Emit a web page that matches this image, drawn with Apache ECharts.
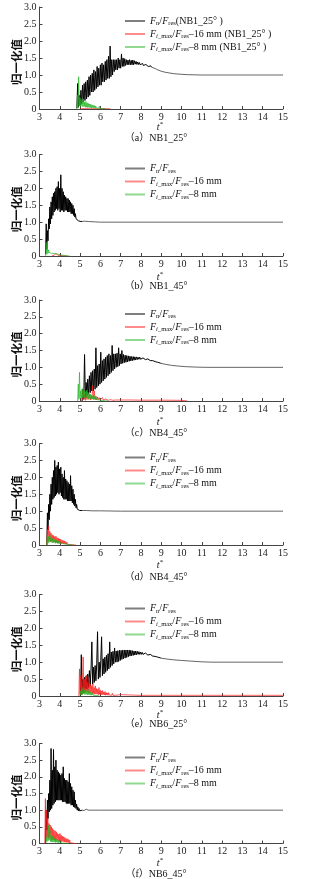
<!DOCTYPE html>
<html>
<head>
<meta charset="utf-8">
<script src="https://cdn.jsdelivr.net/npm/echarts@6/dist/echarts.min.js"></script>
<style>
html,body{margin:0;padding:0;background:#fff;}
#chart{width:327px;height:879px;}
</style>
</head>
<body>
<div id="chart"></div>
<script>
// ---- axis ticks and panel captions ----
const xMin = 3, xMax = 15, xStep = 1;
const yMin = 0, yMax = 3, yStep = 0.5;
const captions = ['（a）NB1_25°', '（b）NB1_45°', '（c）NB4_45°', '（d）NB4_45°', '（e）NB6_25°', '（f）NB6_45°'];
const yName = '归一化值';

// ---- (a) NB1_25° ----
const fnA_t0 = 4.84, fnA_dt = 0.04;
const fnA = [0.02,0.75,0.05,0.4,0.1,0.55,0.15,0.7,0.2,0.75,0.25,0.8,0.3,0.85,0.35,0.95,0.4,1.0,0.5,1.05,
  0.5,1.15,0.55,1.1,0.6,1.25,0.65,1.2,0.7,1.3,0.7,1.35,0.8,1.3,0.8,1.4,0.85,1.45,0.9,1.55,
  0.9,1.85,0.95,1.45,1.0,1.45,1.1,1.45,1.15,1.45,1.15,1.5,1.2,1.45,1.2,1.62,1.25,1.5,1.25,1.48,
  1.28,1.45,1.3,1.44,1.3,1.45,1.3,1.43,1.3,1.44,1.3,1.42,1.32,1.4,1.31,1.38,1.31,1.37,1.3,1.35,
  1.29,1.34,1.28,1.32,1.27,1.31,1.26,1.3,1.25,1.29,1.24,1.27,1.23];
const fnA_tail = [[8.6,1.22],[8.7,1.19],[8.8,1.16],[9.0,1.11],[9.2,1.08],[9.4,1.06],[9.6,1.04],[9.8,1.03],[10.0,1.02],[10.3,1.01],[11,1.0],[15,1.0]];
const f16A_t0 = 5.0, f16A_dt = 0.05;
const f16A = [0,0.03,0.01,0.04,0.01,0.03,0.02,0.05,0.01,0.03,0.01,0.04,0.01,0.03,0.01,0.02,0.01,0.02,0.01,0.02,0.01,0.03,0.01,0.02,0.01,0.03,0.01,0.02,0.01,0.02,0];
const f8A_t0 = 4.84, f8A_dt = 0.03;
const f8A = [0,0.4,0.05,0.95,0.1,0.35,0.08,0.3,0.1,0.25,0.06,0.3,0.08,0.2,0.05,0.22,0.06,0.18,0.04,0.16,
  0.05,0.15,0.04,0.14,0.03,0.12,0.04,0.11,0.03,0.1,0.02,0.09,0.03,0.08,0.02,0.07,0.02,0.08,0.02,0.06,
  0.01,0.05,0.01,0.04,0.01,0.03,0.01,0.02,0];

// ---- (b) NB1_45° ----
const fnB_t0 = 3.30, fnB_dt = 0.03;
const fnB = [0.05,0.95,0.2,0.75,0.45,1.1,0.8,1.45,0.95,1.6,1.1,1.75,1.2,1.85,1.3,1.9,1.35,2.0,1.4,2.05,
  1.35,2.2,1.4,2.0,1.3,2.4,1.35,2.0,1.35,1.9,1.3,1.8,1.35,1.75,1.35,1.7,1.3,1.7,1.3,1.65,
  1.3,1.6,1.25,1.55,1.25,1.5,1.2,1.4,1.15,1.25,1.1,1.15,1.06,1.1,1.04,1.07,1.03,1.05,1.02,1.04,1.02];
const fnB_tail = [[5.2,1.03],[5.4,1.02],[5.7,1.01],[6.0,1.0],[15,1.0]];
const f16B_t0 = 3.6, f16B_dt = 0.03;
const f16B = [0,0.03,0.01,0.05,0.02,0.06,0.02,0.08,0.03,0.07,0.02,0.06,0.03,0.05,0.02,0.05,0.01,0.04,0.01,0.03,0.01,0.02,0,0.01,0,0.01,0];
const f8B_t0 = 3.30, f8B_dt = 0.03;
const f8B = [0,0.4,0.05,0.25,0.08,0.18,0.1,0.15,0.06,0.14,0.08,0.12,0.05,0.12,0.07,0.1,0.04,0.11,0.06,0.09,
  0.04,0.08,0.05,0.07,0.03,0.06,0.03,0.05,0.02,0.04,0.02,0.03,0.01,0.03,0.01,0.02,0.01,0.01,0,0.01,0];

// ---- (c) NB4_45° ----
const fnC_t0 = 5.10, fnC_dt = 0.04;
const fnC = [0.0,0.35,0.05,1.38,0.1,0.55,0.15,0.65,0.2,0.75,0.25,0.85,0.3,0.9,0.3,0.95,0.35,1.58,0.4,1.05,
  0.45,1.1,0.5,1.45,0.55,1.2,0.6,1.25,0.65,1.3,0.7,1.35,0.75,1.4,0.8,1.35,0.85,1.65,0.9,1.4,
  0.95,1.4,1.0,1.42,1.02,1.58,1.05,1.4,1.1,1.5,1.12,1.38,1.14,1.36,1.15,1.35,1.16,1.34,1.18,1.33,
  1.19,1.32,1.2,1.32,1.21,1.31,1.22,1.31,1.23,1.3,1.24,1.3,1.24,1.29,1.24,1.28,1.23,1.27,1.23,1.26,
  1.22,1.25,1.21,1.23,1.2,1.22,1.19,1.2,1.18,1.19,1.17,1.17,1.16,1.15,1.14,1.14,1.13,1.12];
const fnC_tail = [[9.2,1.09],[9.5,1.06],[9.8,1.04],[10.2,1.02],[10.8,1.005],[11.2,1.0],[15,1.0]];
const f16C_t0 = 5.10, f16C_dt = 0.04;
const f16C = [0,0.3,0.05,0.2,0.02,0.15,0.04,0.25,0.05,0.2,0.03,0.15,0.05,0.45,0.06,0.3,0.04,0.15,0.03,0.12,
  0.04,0.1,0.03,0.08,0.02,0.1,0.03,0.07,0.02,0.06,0.02,0.05,0.02,0.05,0.03,0.04,0.02,0.05,0.02,0.04,
  0.02,0.03,0.02,0.03];
const f16C_tail = [[7.0,0.03],[7.5,0.03],[8.0,0.025],[9.0,0.025],[10.0,0.02],[10.3,0.0]];
const f8C_t0 = 4.88, f8C_dt = 0.03;
const f8C = [0,0.5,0.05,0.85,0.1,0.3,0.08,0.35,0.1,0.4,0.12,0.3,0.08,0.28,0.1,0.32,0.08,0.25,0.06,0.22,
  0.08,0.2,0.05,0.18,0.06,0.15,0.04,0.16,0.05,0.12,0.03,0.1,0.04,0.09,0.02,0.08,0.03,0.07,0.02,0.06,
  0.01,0.05,0.02,0.04,0.01,0.03,0.01,0.02,0,0.01,0];

// ---- (d) NB4_45° ----
const fnD_t0 = 3.36, fnD_dt = 0.03;
const fnD = [0.0,0.95,0.45,1.2,0.75,1.5,1.0,1.8,1.2,2.0,1.35,2.2,1.4,2.5,1.45,2.3,1.5,2.35,1.55,2.45,
  1.5,2.25,1.55,2.3,1.45,2.1,1.4,2.0,1.35,2.2,1.35,1.95,1.35,1.9,1.3,1.85,1.3,1.8,1.3,2.05,
  1.3,1.75,1.25,1.65,1.2,1.5,1.15,1.35,1.1,1.2,1.06,1.1,1.03,1.06,1.02,1.04,1.02,1.03,1.02];
const fnD_tail = [[5.3,1.02],[5.6,1.01],[6.0,1.01],[7,1.0],[15,1.0]];
const f16D_t0 = 3.36, f16D_dt = 0.03;
const f16D = [0,0.45,0.1,0.55,0.15,0.4,0.1,0.35,0.12,0.3,0.08,0.28,0.1,0.25,0.06,0.26,0.08,0.22,0.05,0.2,
  0.06,0.18,0.05,0.17,0.04,0.15,0.05,0.13,0.03,0.12,0.03,0.1,0.02,0.08,0.02,0.07,0.02,0.05,0.01,0.04,
  0.01,0.03,0.01,0.02,0,0.01,0,0.01,0,0];
const f8D_t0 = 3.36, f8D_dt = 0.03;
const f8D = [0,0.3,0.05,0.25,0.08,0.3,0.1,0.22,0.08,0.2,0.06,0.18,0.08,0.16,0.05,0.15,0.06,0.14,0.05,0.12,
  0.04,0.12,0.05,0.1,0.03,0.1,0.04,0.09,0.03,0.08,0.03,0.07,0.02,0.06,0.02,0.05,0.01,0.04,0.01,0.03,
  0.01,0.02,0,0.01,0];

// ---- (e) NB6_25° ----
const fnE_t0 = 5.02, fnE_dt = 0.04;
const fnE = [0.0,1.22,0.05,0.5,0.1,0.55,0.15,0.6,0.2,0.65,0.25,0.75,0.3,0.8,1.6,0.35,0.85,0.4,0.9,0.45,
  0.95,1.9,0.5,1.0,0.55,1.05,1.75,0.6,1.1,0.65,1.15,0.7,1.2,0.75,1.25,0.8,1.6,0.85,1.3,0.9,
  1.32,0.95,1.42,1.0,1.33,1.0,1.34,1.02,1.35,1.05,1.35,1.08,1.36,1.1,1.36,1.12,1.36,1.14,1.36,1.16,
  1.36,1.18,1.35,1.19,1.34,1.2,1.33,1.21,1.33,1.22,1.32,1.23,1.31,1.23,1.3,1.23,1.29,1.23,1.28,1.22,
  1.27,1.22,1.26,1.21,1.24,1.2,1.23,1.19,1.21,1.18,1.19,1.17,1.17,1.16,1.15,1.15,1.14,1.13,1.13,1.12];
const fnE_tail = [[9.3,1.09],[9.6,1.07],[10,1.05],[10.5,1.03],[11,1.01],[11.5,1.0],[15,1.0]];
const f16E_t0 = 4.94, f16E_dt = 0.03;
const f16E = [0,0.8,0.05,0.6,0.1,0.3,0.05,1.15,0.1,0.5,0.08,0.45,0.1,0.6,0.12,0.4,0.1,0.55,0.08,0.35,
  0.1,0.3,0.06,0.35,0.08,0.25,0.05,0.3,0.06,0.22,0.05,0.2,0.04,0.25,0.05,0.18,0.04,0.15,0.03,0.16,
  0.04,0.12,0.03,0.13,0.02,0.1,0.03,0.09,0.02,0.1,0.03,0.08,0.02,0.07,0.02,0.08,0.02,0.06,0.02,0.05,
  0.02,0.06,0.02];
const f16E_tail = [[7.0,0.04],[7.5,0.03],[8.0,0.02],[9.0,0.02],[10.0,0.02],[12.0,0.02],[15.0,0.02]];
const f8E_t0 = 5.0, f8E_dt = 0.03;
const f8E = [0,0.15,0.03,0.2,0.05,0.25,0.06,0.18,0.04,0.22,0.05,0.15,0.03,0.2,0.04,0.14,0.03,0.12,0.02,0.1,
  0.03,0.09,0.02,0.07,0.01,0.06,0.01,0.05,0.01,0.03,0.01,0.02,0];

// ---- (f) NB6_45° ----
const fnF_t0 = 3.30, fnF_dt = 0.03;
const fnF = [0.0,1.0,0.4,1.3,0.75,1.5,0.95,1.9,1.0,2.85,1.05,2.2,1.15,2.82,1.2,2.3,1.25,2.5,1.3,2.2,
  1.3,2.15,1.3,2.1,1.3,2.05,1.3,2.1,1.25,2.3,1.25,1.95,1.25,1.9,1.2,1.9,1.2,1.85,1.2,2.1,
  1.2,1.8,1.15,1.7,1.15,1.6,1.1,1.55,1.08,1.3,1.05,1.18,1.0,1.1,0.98,1.05,0.98,1.03,0.99,1.02,1.0];
const fnF_tail = [[5.2,0.99],[5.3,1.03],[5.4,1.0],[6,1.0],[15,1.0]];
const f16F_t0 = 3.26, f16F_dt = 0.03;
const f16F = [0,1.35,0.1,1.0,0.2,0.75,0.15,0.6,0.2,0.55,0.15,0.5,0.1,0.45,0.12,0.4,0.1,0.38,0.08,0.35,
  0.1,0.3,0.08,0.28,0.06,0.3,0.07,0.25,0.05,0.22,0.06,0.2,0.04,0.18,0.05,0.15,0.03,0.14,0.03,0.12,
  0.02,0.1,0.02,0.08,0.01,0.06,0.01,0.05,0.01,0.03,0,0.02,0];
const f8F_t0 = 3.30, f8F_dt = 0.03;
const f8F = [0,0.2,0.05,0.3,0.08,0.55,0.1,0.4,0.06,0.25,0.05,0.22,0.04,0.2,0.05,0.15,0.03,0.14,0.04,0.12,
  0.03,0.1,0.02,0.1,0.03,0.08,0.02,0.07,0.01,0.06,0.01,0.05,0.01,0.03,0.01,0.02,0,0.01,0];

// ---- helpers ----
// evenly sampled record -> [t, value] pairs
function sampled(t0, dt, values) {
  return values.map((v, i) => [Math.round((t0 + i * dt) * 1000) / 1000, v]);
}

const records = [
  { fn: sampled(fnA_t0, fnA_dt, fnA), tail: fnA_tail, f16: sampled(f16A_t0, f16A_dt, f16A), f8: sampled(f8A_t0, f8A_dt, f8A) },
  { fn: sampled(fnB_t0, fnB_dt, fnB), tail: fnB_tail, f16: sampled(f16B_t0, f16B_dt, f16B), f8: sampled(f8B_t0, f8B_dt, f8B) },
  { fn: sampled(fnC_t0, fnC_dt, fnC), tail: fnC_tail, f16: sampled(f16C_t0, f16C_dt, f16C).concat(f16C_tail), f8: sampled(f8C_t0, f8C_dt, f8C) },
  { fn: sampled(fnD_t0, fnD_dt, fnD), tail: fnD_tail, f16: sampled(f16D_t0, f16D_dt, f16D), f8: sampled(f8D_t0, f8D_dt, f8D) },
  { fn: sampled(fnE_t0, fnE_dt, fnE), tail: fnE_tail, f16: sampled(f16E_t0, f16E_dt, f16E).concat(f16E_tail), f8: sampled(f8E_t0, f8E_dt, f8E) },
  { fn: sampled(fnF_t0, fnF_dt, fnF), tail: fnF_tail, f16: sampled(f16F_t0, f16F_dt, f16F), f8: sampled(f8F_t0, f8F_dt, f8F) }
];

// panel layout: plot top / height, caption and t* positions
const layout = [
  { top: 7,     h: 102,   tY: 127, capY: 138 },
  { top: 154.5, h: 101.5, tY: 277, capY: 286.5 },
  { top: 300,   h: 101,   tY: 422, capY: 433 },
  { top: 443.5, h: 101.5, tY: 565, capY: 577 },
  { top: 594.5, h: 101.5, tY: 715, capY: 724 },
  { top: 743.5, h: 100,   tY: 863, capY: 874 }
];
const gridLeft = 39.5, gridWidth = 243.5;

const SERIF = '"Liberation Serif","Times New Roman",serif';
const CJK = '"Noto Sans CJK SC","Noto Sans CJK JP",sans-serif';
const legendColors = { Fn: '#000000', F16: '#ff1a1a', F8: '#22b422' };

const richStyles = {
  i:  { fontFamily: SERIF, fontStyle: 'italic', fontSize: 10, lineHeight: 12, color: '#111' },
  n:  { fontFamily: SERIF, fontSize: 10, lineHeight: 12, color: '#111' },
  s:  { fontFamily: SERIF, fontSize: 6.5, lineHeight: 8, verticalAlign: 'bottom', color: '#111' },
  si: { fontFamily: SERIF, fontStyle: 'italic', fontSize: 6.5, lineHeight: 8, verticalAlign: 'bottom', color: '#111' }
};

function legendText(name, suffix) {
  const fn = '{i|F}{s|n}{n|/}{i|F}{s|res}';
  const fi = '{i|F}{si|i}{s|_max}{n|/}{i|F}{s|res}';
  if (name === 'Fn') return fn + (suffix ? '{n|(' + suffix + ' )}' : '');
  if (name === 'F16') return fi + '{n|–16 mm' + (suffix ? ' (' + suffix + ' )' : '') + '}';
  return fi + '{n|–8 mm' + (suffix ? ' (' + suffix + ' )' : '') + '}';
}

const grids = [], xAxes = [], yAxes = [], legends = [], series = [], graphics = [];

layout.forEach((p, k) => {
  grids.push({ left: gridLeft, top: p.top, width: gridWidth, height: p.h });
  xAxes.push({
    type: 'value', gridIndex: k, min: xMin, max: xMax, interval: xStep,
    axisLine: { show: true, onZero: false, lineStyle: { color: '#444', width: 1 } },
    axisTick: { show: true, inside: true, length: 3, lineStyle: { color: '#444', width: 1 } },
    axisLabel: { fontFamily: SERIF, fontSize: 10, color: '#222', margin: 3 },
    splitLine: { show: false }
  });
  yAxes.push({
    type: 'value', gridIndex: k, min: yMin, max: yMax, interval: yStep,
    axisLine: { show: true, lineStyle: { color: '#444', width: 1 } },
    axisTick: { show: true, inside: true, length: 3, lineStyle: { color: '#444', width: 1 } },
    axisLabel: {
      fontFamily: SERIF, fontSize: 10, color: '#222', margin: 3,
      formatter: v => (v === 0 ? '0' : v.toFixed(1))
    },
    splitLine: { show: false }
  });
  const suffix = k === 0 ? 'NB1_25°' : '';
  legends.push({
    orient: 'vertical', left: 125, top: p.top + 8,
    icon: 'rect', itemWidth: 20, itemHeight: 2, itemGap: 1, padding: 0,
    selectedMode: false,
    data: ['Fn', 'F16', 'F8'].map(n => ({ name: n, itemStyle: { color: legendColors[n], opacity: 0.5 } })),
    formatter: name => legendText(name, suffix),
    textStyle: { fontFamily: SERIF, fontSize: 10, lineHeight: 12, color: '#111', rich: richStyles }
  });
  const rec = records[k];
  const common = { type: 'line', xAxisIndex: k, yAxisIndex: k, symbol: 'none', showSymbol: false,
    silent: true, animation: false, clip: true };
  // dense fluctuating part of Fn/Fres
  series.push(Object.assign({}, common, { name: 'Fn', data: rec.fn, z: 2,
    lineStyle: { color: '#000', width: 1.0 }, itemStyle: { color: '#000' } }));
  // settled part of Fn/Fres, continuing from the last sample
  series.push(Object.assign({}, common, { name: 'Fn', data: [rec.fn[rec.fn.length - 1]].concat(rec.tail), z: 2,
    lineStyle: { color: '#222', width: 0.7 }, itemStyle: { color: '#000' } }));
  series.push(Object.assign({}, common, { name: 'F16', data: rec.f16, z: 3,
    lineStyle: { color: '#ff1a1a', width: 0.7 }, itemStyle: { color: '#ff1a1a' } }));
  series.push(Object.assign({}, common, { name: 'F8', data: rec.f8, z: 4,
    lineStyle: { color: '#22b422', width: 0.7 }, itemStyle: { color: '#22b422' } }));

  // vertical axis title
  graphics.push({
    type: 'text', x: 17, y: p.top + p.h / 2 + 4, rotation: Math.PI / 2,
    style: { text: yName, fontFamily: CJK, fontWeight: 'bold', fontSize: 11.5, fill: '#111',
      align: 'center', verticalAlign: 'middle' }
  });
  // horizontal axis title t*
  graphics.push({
    type: 'text', x: 160, y: p.tY,
    style: { text: '{i|t}{p|*}', align: 'center', verticalAlign: 'middle',
      rich: { i: { fontFamily: SERIF, fontStyle: 'italic', fontSize: 10, lineHeight: 12, fill: '#111' },
              p: { fontFamily: SERIF, fontSize: 7, lineHeight: 12, verticalAlign: 'top', fill: '#111' } } }
  });
  // panel caption
  graphics.push({
    type: 'text', x: 156, y: p.capY,
    style: { text: captions[k], fontFamily: SERIF + ',' + CJK, fontSize: 10, fill: '#111',
      align: 'center', verticalAlign: 'middle' }
  });
});

const chart = echarts.init(document.getElementById('chart'), null, { renderer: 'canvas' });
chart.setOption({
  animation: false,
  backgroundColor: '#fff',
  grid: grids, xAxis: xAxes, yAxis: yAxes, legend: legends, series: series, graphic: graphics
});
</script>
</body>
</html>
